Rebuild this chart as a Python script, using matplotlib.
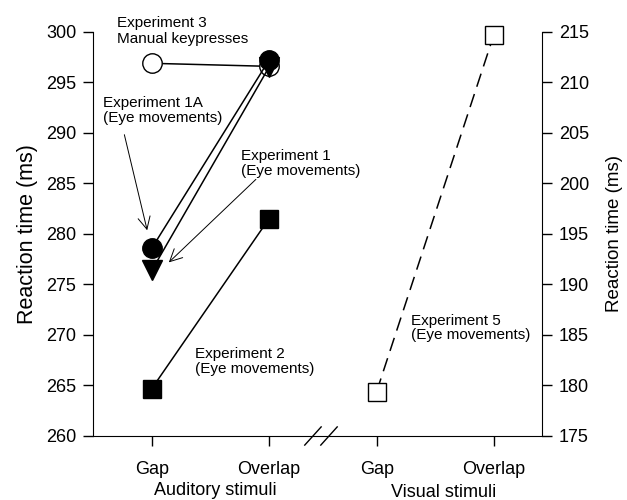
import matplotlib
matplotlib.use("Agg")
import matplotlib.pyplot as plt
from matplotlib.transforms import blended_transform_factory

plt.rcParams['font.family'] = ['Liberation Sans', 'DejaVu Sans']

# condition labels and x slots (auditory pair, then visual pair)
tick_labels = ["Gap", "Overlap", "Gap", "Overlap"]
group_labels = ["Auditory stimuli", "Visual stimuli"]

# reaction times (ms), left axis = auditory, right axis = visual
exp3_manual = [296.9, 296.6]
exp1a_eye = [278.6, 297.2]
exp1_eye = [276.4, 296.5]
exp2_eye = [264.7, 281.5]
exp5_visual = [179.4, 214.7]

xpos = [0, 1, 1.92, 2.92]

fig = plt.figure(figsize=(6.27, 5.0), dpi=100)
ax = fig.add_axes([0.148, 0.128, 0.717, 0.808])
ax2 = ax.twinx()

for a in (ax, ax2):
    a.spines['top'].set_visible(False)
    a.set_facecolor('none')
ax.spines['right'].set_visible(False)
ax2.spines['left'].set_visible(False)
ax2.spines['bottom'].set_visible(False)

ms = 14
lw = 1.1
aud = xpos[:2]
ax.plot(aud, exp3_manual, '-', color='black', lw=lw, marker='o', ms=ms,
        mfc='white', mec='black', mew=1.0, zorder=3, clip_on=False)
ax.plot(aud, exp2_eye, '-', color='black', lw=lw, marker='s', ms=13,
        mfc='black', mec='black', zorder=3, clip_on=False)
ax.plot(aud, exp1_eye, '-', color='black', lw=lw, marker='v', ms=ms,
        mfc='black', mec='black', zorder=4, clip_on=False)
ax.plot(aud, exp1a_eye, '-', color='black', lw=lw, marker='o', ms=ms,
        mfc='black', mec='black', zorder=5, clip_on=False)

ax2.plot(xpos[2:], exp5_visual, color='black', lw=lw, dashes=(9, 5),
         marker='s', ms=13, mfc='white', mec='black', mew=1.0, clip_on=False)

ax.set_xlim(-0.504, 3.335)
ax.set_ylim(260, 300)
ax2.set_ylim(175, 215)
ax.set_yticks(range(260, 301, 5))
ax2.set_yticks(range(175, 216, 5))
ax.set_xticks(xpos)
ax.set_xticklabels(tick_labels)

for a in (ax, ax2):
    a.tick_params(labelsize=13, length=7, width=1.0, direction='out', pad=5)
ax.tick_params(axis='x', pad=11)

ax.set_ylabel("Reaction time (ms)", fontsize=15.5, labelpad=6)
ax2.set_ylabel("Reaction time (ms)", fontsize=13.5, labelpad=12)

# group labels under the tick labels
trans = blended_transform_factory(ax.transData, ax.transAxes)
ax.text(0.54, -0.134, group_labels[0], transform=trans, ha='center',
        va='center', fontsize=13)
ax.text(2.49, -0.139, group_labels[1], transform=trans, ha='center',
        va='center', fontsize=13)

# axis break marks
for bx in (1.376, 1.513):
    ax.plot([bx - 0.07, bx + 0.07], [259.1, 260.9], color='black', lw=1.0,
            clip_on=False, zorder=6)

fs = 11
ax.text(-0.30, 300.1, "Experiment 3\nManual keypresses", fontsize=fs,
        va='center', ha='left', linespacing=1.1)
ax.text(-0.42, 292.2, "Experiment 1A\n(Eye movements)", fontsize=fs,
        va='center', ha='left', linespacing=1.1)
ax.text(0.76, 287.0, "Experiment 1\n(Eye movements)", fontsize=fs,
        va='center', ha='left', linespacing=1.05)
ax.text(0.37, 267.4, "Experiment 2\n(Eye movements)", fontsize=fs,
        va='center', ha='left', linespacing=1.05)
ax.text(2.21, 270.7, "Experiment 5\n(Eye movements)", fontsize=fs,
        va='center', ha='left', linespacing=1.05)

arrow = dict(arrowstyle='->', color='black', lw=0.7, mutation_scale=22)
ax.annotate("", xy=(-0.034, 280.1), xytext=(-0.24, 290.1), arrowprops=arrow)
ax.annotate("", xy=(0.128, 277.0), xytext=(0.906, 285.6), arrowprops=arrow)

fig.savefig("out.png", dpi=100)
